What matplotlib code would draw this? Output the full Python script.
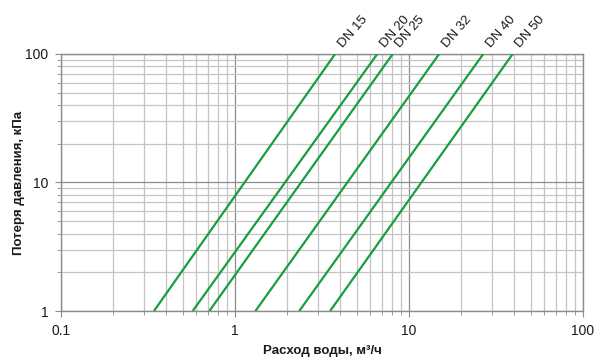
import numpy as np
import matplotlib
matplotlib.use('Agg')
import matplotlib.pyplot as plt
from matplotlib.ticker import LogLocator, FixedLocator, FixedFormatter, NullFormatter

plt.rcParams['font.family'] = ['Liberation Sans', 'DejaVu Sans']

# line end points: flow (m3/h) at 1 kPa and at 100 kPa
sizes = ['DN 15', 'DN 20', 'DN 25', 'DN 32', 'DN 40', 'DN 50']
flow_at_1 = [0.342, 0.571, 0.712, 1.31, 2.34, 3.52]
flow_at_100 = [3.76, 6.57, 8.06, 14.9, 26.7, 39.4]
dp_ends = [1, 100]

x_ticks = [0.1, 1, 10, 100]
x_labels = ['0.1', '1', '10', '100']
y_ticks = [1, 10, 100]
y_labels = ['1', '10', '100']

green = '#1a9e3c'
major_c = '#8c8c8c'
minor_c = '#c4c4c4'

fig = plt.figure(figsize=(6, 3.59), dpi=100)
ax = fig.add_axes([0.1017, 0.1337, 0.87, 0.7159])

for name, q1, q100 in zip(sizes, flow_at_1, flow_at_100):
    ax.plot([q1, q100], dp_ends, color=green, lw=1.6, solid_capstyle='butt', zorder=3)
    ax.annotate(name, xy=(q100, 100), xytext=(7, 3), textcoords='offset points',
                rotation=49, rotation_mode='anchor', ha='left', va='bottom',
                fontsize=9.5, color='#1a1a1a', annotation_clip=False)

ax.set_xscale('log')
ax.set_yscale('log')
ax.set_xlim(0.1, 100)
ax.set_ylim(1, 100)

ax.xaxis.set_major_locator(FixedLocator(x_ticks))
ax.xaxis.set_major_formatter(FixedFormatter(x_labels))
ax.yaxis.set_major_locator(FixedLocator(y_ticks))
ax.yaxis.set_major_formatter(FixedFormatter(y_labels))
ax.xaxis.set_minor_locator(LogLocator(base=10, subs=np.arange(2, 10)))
ax.yaxis.set_minor_locator(LogLocator(base=10, subs=np.arange(2, 10)))
ax.xaxis.set_minor_formatter(NullFormatter())
ax.yaxis.set_minor_formatter(NullFormatter())

ax.grid(which='minor', color=minor_c, lw=0.9, zorder=0)
ax.grid(which='major', color=major_c, lw=0.9, zorder=1)
ax.set_axisbelow(True)

for s in ax.spines.values():
    s.set_color(major_c)
    s.set_linewidth(1.0)

ax.tick_params(which='both', direction='out', color=major_c, labelsize=10, labelcolor='#1a1a1a')
ax.tick_params(which='major', length=4, pad=5)
ax.tick_params(which='minor', length=3)

ax.set_xlabel('Расход воды, м³/ч', fontsize=9.5, fontweight='bold', color='#1a1a1a')
ax.set_ylabel('Потеря давления, кПа', fontsize=9.5, fontweight='bold', color='#1a1a1a')
ax.xaxis.set_label_coords(0.5, -0.155)
ax.xaxis.label.set_va('center')
ax.yaxis.set_label_coords(-0.08, 0.5)
ax.yaxis.label.set_va('center')

fig.savefig('out.png', dpi=100)
